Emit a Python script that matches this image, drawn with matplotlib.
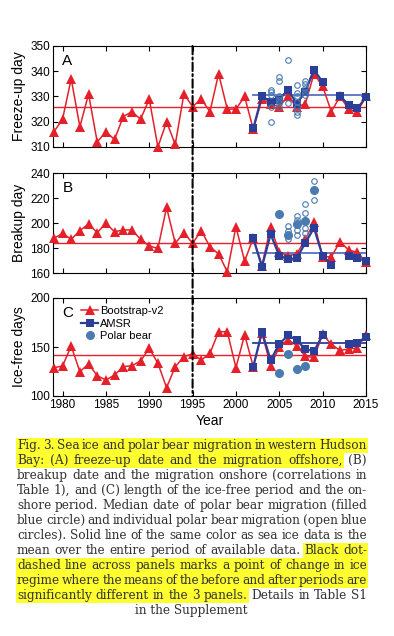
import numpy as np
import matplotlib
matplotlib.use('Agg')
import matplotlib.pyplot as plt
from matplotlib.patches import Rectangle, ConnectionPatch
from matplotlib.lines import Line2D

# ---------------- data ----------------
years_bs = list(range(1979, 2016))
years_amsr = list(range(2002, 2016))

freeze_bs = [316, 321, 337, 318, 331, 312, 316, 313, 322, 324, 321, 329, 310, 320,
             311, 331, 326, 329, 324, 339, 325, 325, 330, 317, 329, 327, 326, 330,
             326, 327, 339, 334, 324, 330, 325, 324, 330]
freeze_amsr = [317.4, 330.3, 327.7, 328.8, 332.7, 327.2, 331.8, 340.6, 335.7, np.nan,
               330.3, 326.6, 325.3, 329.7]
freeze_mean_bs, freeze_mean_amsr = 325.7, 330.4

breakup_bs = [187.7, 191.7, 187.0, 193.9, 199.2, 192.3, 199.7, 193.0, 194.4, 194.4,
              187.0, 181.6, 179.7, 212.5, 183.7, 192.3, 183.7, 193.9, 181.0, 175.2,
              161.0, 197.0, 169.5, 188.0, 166.0, 197.0, 176.5, 174.0, 175.0, 187.0,
              200.5, 173.0, 173.0, 185.0, 178.4, 176.5, 168.8]
breakup_amsr = [187.7, 165.0, 191.0, 173.8, 171.0, 171.8, 184.0, 196.0, 173.6, 166.7,
                np.nan, 173.8, 171.8, 169.8]
breakup_mean_bs, breakup_mean_amsr = 184.0, 176.4

icefree_bs = [128.9, 130.6, 151.0, 124.8, 132.7, 120.7, 116.3, 121.4, 129.9, 130.9,
              135.7, 148.6, 133.3, 108.5, 129.9, 140.1, 143.0, 136.7, 143.5, 165.6,
              165.6, 128.9, 162.5, 130.0, 164.0, 131.0, 150.0, 157.5, 151.5, 140.5,
              139.3, 162.8, 152.8, 146.5, 148.0, 149.0, 162.5]
icefree_amsr = [129.9, 165.6, 136.7, 152.8, 162.2, 156.8, 148.0, 145.5, 162.5, np.nan,
                np.nan, 153.0, 154.2, 160.0]
icefree_mean_bs, icefree_mean_amsr = 142.0, 153.7

# individual polar bear migration (open circles)
bear_A_years = [2004, 2005, 2006, 2007, 2008]
bear_A_indiv = [[332.6, 331.6, 330.5, 325.7, 319.8],
                [337.6, 336.3, 330.3, 328.7, 327.3, 326.0],
                [344.6, 327.4],
                [334.6, 331.4, 330.1, 327.7, 325.7, 323.7, 322.7],
                [336.3, 335.0, 333.2, 331.9, 330.6]]
bear_B_years = [2006, 2007, 2008, 2009]
bear_B_indiv = [[197.9, 193.6, 187.2],
                [205.9, 202.4, 194.4, 190.4],
                [214.9, 207.7, 195.7, 191.7],
                [233.6, 218.4]]
# median polar bear migration (filled circles)
bear_B_med_years = [2005, 2006, 2007, 2008, 2009]
bear_B_med = [207.0, 190.4, 198.9, 201.6, 226.4]
bear_C_med_years = [2005, 2006, 2007, 2008]
bear_C_med = [123.1, 142.5, 127.2, 130.9]

change_year = 1995
ylabels = ['Freeze-up day', 'Breakup day', 'Ice-free days']
panel_letters = ['A', 'B', 'C']
ylims = [(310, 350), (160, 240), (100, 200)]
yticks = [[310, 320, 330, 340, 350], [160, 180, 200, 220, 240], [100, 150, 200]]
xticks = [1980, 1985, 1990, 1995, 2000, 2005, 2010, 2015]
legend_labels = ['Bootstrap-v2', 'AMSR', 'Polar bear']

caption_lines = [
    [("Fig. 3. Sea ice and polar bear migration in western Hudson", True)],
    [("Bay: (A) freeze-up date and the migration offshore,", True), ("(B)", False)],
    [("breakup date and the migration onshore (correlations in", False)],
    [("Table 1), and (C) length of the ice-free period and the on-", False)],
    [("shore period. Median date of polar bear migration (filled", False)],
    [("blue circle) and individual polar bear migration (open blue", False)],
    [("circles). Solid line of the same color as sea ice data is the", False)],
    [("mean over the entire period of available data.", False), ("Black dot-", True)],
    [("dashed line across panels marks a point of change in ice", True)],
    [("regime where the means of the before and after periods are", True)],
    [("significantly different in the 3 panels.", True), ("Details in Table S1", False)],
]
caption_last = "in the Supplement"

# ---------------- styling ----------------
RED = '#e4202a'
BLUE = '#2b3f98'
BLUE_MEAN = ['#5a6ec0', '#5a6ec0', '#2b3f98']
BEAR = '#4a7bb0'

W, H = 394, 636
fig = plt.figure(figsize=(W / 100, H / 100), dpi=100)
plt.rcParams['font.family'] = ['Liberation Sans', 'DejaVu Sans']

def fx(px):
    return px / W

def fy(py):
    return 1 - py / H

left_px, right_px = 53, 366
panel_px = [(46, 147), (173, 273), (298, 396)]
xlim = (1978.9, 2015.0)

bs_series = [freeze_bs, breakup_bs, icefree_bs]
amsr_series = [freeze_amsr, breakup_amsr, icefree_amsr]
bs_means = [freeze_mean_bs, breakup_mean_bs, icefree_mean_bs]
amsr_means = [freeze_mean_amsr, breakup_mean_amsr, icefree_mean_amsr]

axes = []
for i, (top, bot) in enumerate(panel_px):
    ax = fig.add_axes([fx(left_px), fy(bot), (right_px - left_px) / W, (bot - top) / H])
    axes.append(ax)
    ax.set_xlim(*xlim)
    ax.set_ylim(*ylims[i])
    ax.set_yticks(yticks[i])
    ax.set_xticks(xticks)
    ax.tick_params(direction='in', top=True, right=True, length=3.5, width=0.8,
                   labelsize=8.5, pad=2)
    for s in ax.spines.values():
        s.set_linewidth(0.8)
    if i < 2:
        ax.set_xticklabels([])
    ax.set_ylabel(ylabels[i], fontsize=10, labelpad=3)

    # mean lines
    ax.plot(xlim, [bs_means[i]] * 2, color=RED, lw=1.0, zorder=2)
    ax.plot([years_amsr[0], years_amsr[-1]], [amsr_means[i]] * 2,
            color=BLUE_MEAN[i], lw=1.3, zorder=2)

    # bootstrap series
    ax.plot(years_bs, bs_series[i], color=RED, lw=1.1, marker='^', ms=6.8,
            markeredgewidth=0, zorder=4, clip_on=False)
    # AMSR series
    ax.plot(years_amsr, amsr_series[i], color=BLUE, lw=1.6, marker='s', ms=5.5,
            markeredgewidth=0, zorder=5, clip_on=False)

    ax.text(0.03, 0.92, panel_letters[i], transform=ax.transAxes, fontsize=11,
            va='top', ha='left')

# polar bear symbols
axA, axB, axC = axes
for yr, vals in zip(bear_A_years, bear_A_indiv):
    axA.plot([yr] * len(vals), vals, ls='none', marker='o', ms=4, mfc='none',
             mec=BEAR, mew=0.8, zorder=6)
for yr, vals in zip(bear_B_years, bear_B_indiv):
    axB.plot([yr] * len(vals), vals, ls='none', marker='o', ms=4, mfc='none',
             mec=BEAR, mew=0.8, zorder=6)
axB.plot(bear_B_med_years, bear_B_med, ls='none', marker='o', ms=5.5, mfc=BEAR,
         mec=BEAR, zorder=7)
axC.plot(bear_C_med_years, bear_C_med, ls='none', marker='o', ms=5.5, mfc=BEAR,
         mec=BEAR, zorder=7)

axC.set_xlabel('Year', fontsize=10, labelpad=2)

# legend
handles = [Line2D([], [], color=RED, lw=1.1, marker='^', ms=6.5, markeredgewidth=0),
           Line2D([], [], color=BLUE, lw=1.6, marker='s', ms=5.5, markeredgewidth=0),
           Line2D([], [], ls='none', color=BEAR, marker='o', ms=5.5)]
axC.legend(handles, legend_labels, loc='upper left', bbox_to_anchor=(0.09, 0.915),
           frameon=False, fontsize=8, handlelength=1.5, handletextpad=0.2,
           labelspacing=0.2, borderpad=0, borderaxespad=0)

# change-point line across panels
con = ConnectionPatch(xyA=(change_year, ylims[0][1]), coordsA='data', axesA=axA,
                      xyB=(change_year, ylims[2][0]), coordsB='data', axesB=axC,
                      color='black', lw=1.5, linestyle=(0, (4, 1.5, 1, 1.5)), zorder=10)
fig.add_artist(con)

# ---------------- caption ----------------
renderer = fig.canvas.get_renderer()
CAP_FONT = 'DejaVu Serif'
CAP_COLOR = '#333333'
HILITE = '#ffff30'
x0, x1 = 17, 367
line_y0, dy = 445, 15

def measure(s, fs):
    t = fig.text(0, 0, s, fontsize=fs, family=CAP_FONT)
    w = t.get_window_extent(renderer=renderer).width
    t.remove()
    return w

def words_of(line):
    out = []
    for seg, hl in line:
        for w in seg.split():
            out.append((w, hl))
    return out

fs = 9.5
while fs > 6:
    space_min = 0.14 * fs * 100 / 72
    ok = True
    for line in caption_lines:
        ws = words_of(line)
        tot = sum(measure(w, fs) for w, _ in ws) + space_min * (len(ws) - 1)
        if tot > (x1 - x0):
            ok = False
            break
    if ok:
        break
    fs -= 0.1

for li, line in enumerate(caption_lines):
    ws = words_of(line)
    widths = [measure(w, fs) for w, _ in ws]
    gap = ((x1 - x0) - sum(widths)) / (len(ws) - 1)
    yc = line_y0 + li * dy
    x = x0
    positions = []
    for (w, hl), wd in zip(ws, widths):
        positions.append((x, x + wd, hl))
        fig.text(fx(x), fy(yc + 4), w, fontsize=fs, family=CAP_FONT, color=CAP_COLOR,
                 ha='left', va='baseline', zorder=3)
        x += wd + gap
    # highlight runs
    k = 0
    while k < len(positions):
        if positions[k][2]:
            j = k
            while j + 1 < len(positions) and positions[j + 1][2]:
                j += 1
            xs = positions[k][0] - (gap * 0.5 if k > 0 else 1)
            xe = positions[j][1] + 1
            fig.add_artist(Rectangle((fx(xs), fy(yc + 7.5)), (xe - xs) / W, dy / H,
                                     transform=fig.transFigure, facecolor=HILITE,
                                     edgecolor='none', zorder=1))
            k = j + 1
        else:
            k += 1

yc = line_y0 + len(caption_lines) * dy
fig.text(fx(191.5), fy(yc + 4), caption_last, fontsize=fs, family=CAP_FONT,
         color=CAP_COLOR, ha='center', va='baseline')

fig.savefig('out.png', dpi=100)
